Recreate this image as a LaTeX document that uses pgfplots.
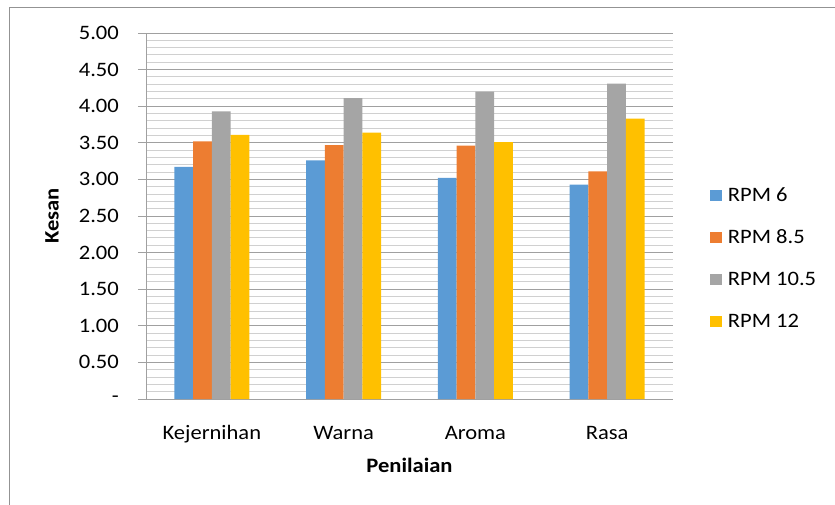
\documentclass[border=0pt]{standalone}
\usepackage{pgfplots}
\pgfplotsset{compat=1.18}
\usepackage{fontspec}
\setmainfont{Carlito}[FakeStretch=1.1]
\definecolor{cA}{HTML}{5B9BD5}
\definecolor{cB}{HTML}{ED7D31}
\definecolor{cC}{HTML}{A5A5A5}
\definecolor{cD}{HTML}{FFC000}
\definecolor{gmaj}{HTML}{A0A0A0}
\definecolor{gmin}{HTML}{D0D0D0}
\begin{document}
\fontsize{20.5pt}{24pt}\selectfont
\begin{tikzpicture}
\useasboundingbox (0,0) rectangle (835pt,-504pt);
\draw[gray!85, line width=1pt] (9.5pt,-520pt) -- (9.5pt,-7.5pt) -- (850pt,-7.5pt);
\begin{axis}[
  at={(146pt,-399pt)}, anchor=south west,
  scale only axis, width=527pt, height=366pt,
  xmin=-0.5, xmax=3.5, ymin=0, ymax=5,
  ybar=0pt, bar width=18.75pt,
  axis x line=bottom, axis y line=left,
  axis line style={draw=gmaj, line width=1pt, -},
  xtick={0,1,2,3},
  xticklabels={Kejernihan,Warna,Aroma,Rasa},
  x tick style={draw=none},
  ytick={0,0.5,1,1.5,2,2.5,3,3.5,4,4.5,5},
  yticklabels={-,0.50,1.00,1.50,2.00,2.50,3.00,3.50,4.00,4.50,5.00},
  minor y tick num=4,
  ymajorgrids, yminorgrids,
  major grid style={draw=gmaj, line width=1pt},
  minor grid style={draw=gmin, line width=1pt},
  y tick style={draw=gmaj, line width=1pt},
  tick align=outside, major tick length=8pt, minor tick length=0pt,
  /pgf/number format/assume math mode=true,
  ticklabel style={font=\fontsize{20.5pt}{24pt}\selectfont},
  y tick label style={anchor=east, inner sep=0pt, xshift=-19pt},
  x tick label style={anchor=base, inner sep=0pt, yshift=-32pt},
  every axis y label/.style={at={(axis description cs:-0.1784,0.5)}, rotate=90, anchor=center, font=\fontsize{20.5pt}{24pt}\selectfont\bfseries},
  every axis x label/.style={at={(axis description cs:0.5,-0.1803)}, anchor=center, font=\fontsize{20.5pt}{24pt}\selectfont\bfseries},
  ylabel={Kesan},
  xlabel={Penilaian},
  legend cell align=left,
  legend image code/.code={\fill[#1] (0pt,-6pt) rectangle (11.7pt,5.4pt);},
  legend style={draw=none, fill=none, inner sep=0pt,
    at={(axis description cs:1.0702,0.5757)}, anchor=north west,
    row sep=29pt, column sep=6pt,
    nodes={inner sep=0pt, text height=13pt, text depth=0pt, font=\fontsize{20.5pt}{24pt}\selectfont}},
]
\addplot[fill=cA, draw=none] coordinates {(0,3.17) (1,3.26) (2,3.02) (3,2.93)};
\addplot[fill=cB, draw=none] coordinates {(0,3.52) (1,3.47) (2,3.46) (3,3.11)};
\addplot[fill=cC, draw=none] coordinates {(0,3.93) (1,4.11) (2,4.20) (3,4.31)};
\addplot[fill=cD, draw=none] coordinates {(0,3.61) (1,3.64) (2,3.51) (3,3.83)};
\legend{RPM 6,RPM 8.5,RPM 10.5,RPM 12}
\end{axis}
\end{tikzpicture}
\end{document}
